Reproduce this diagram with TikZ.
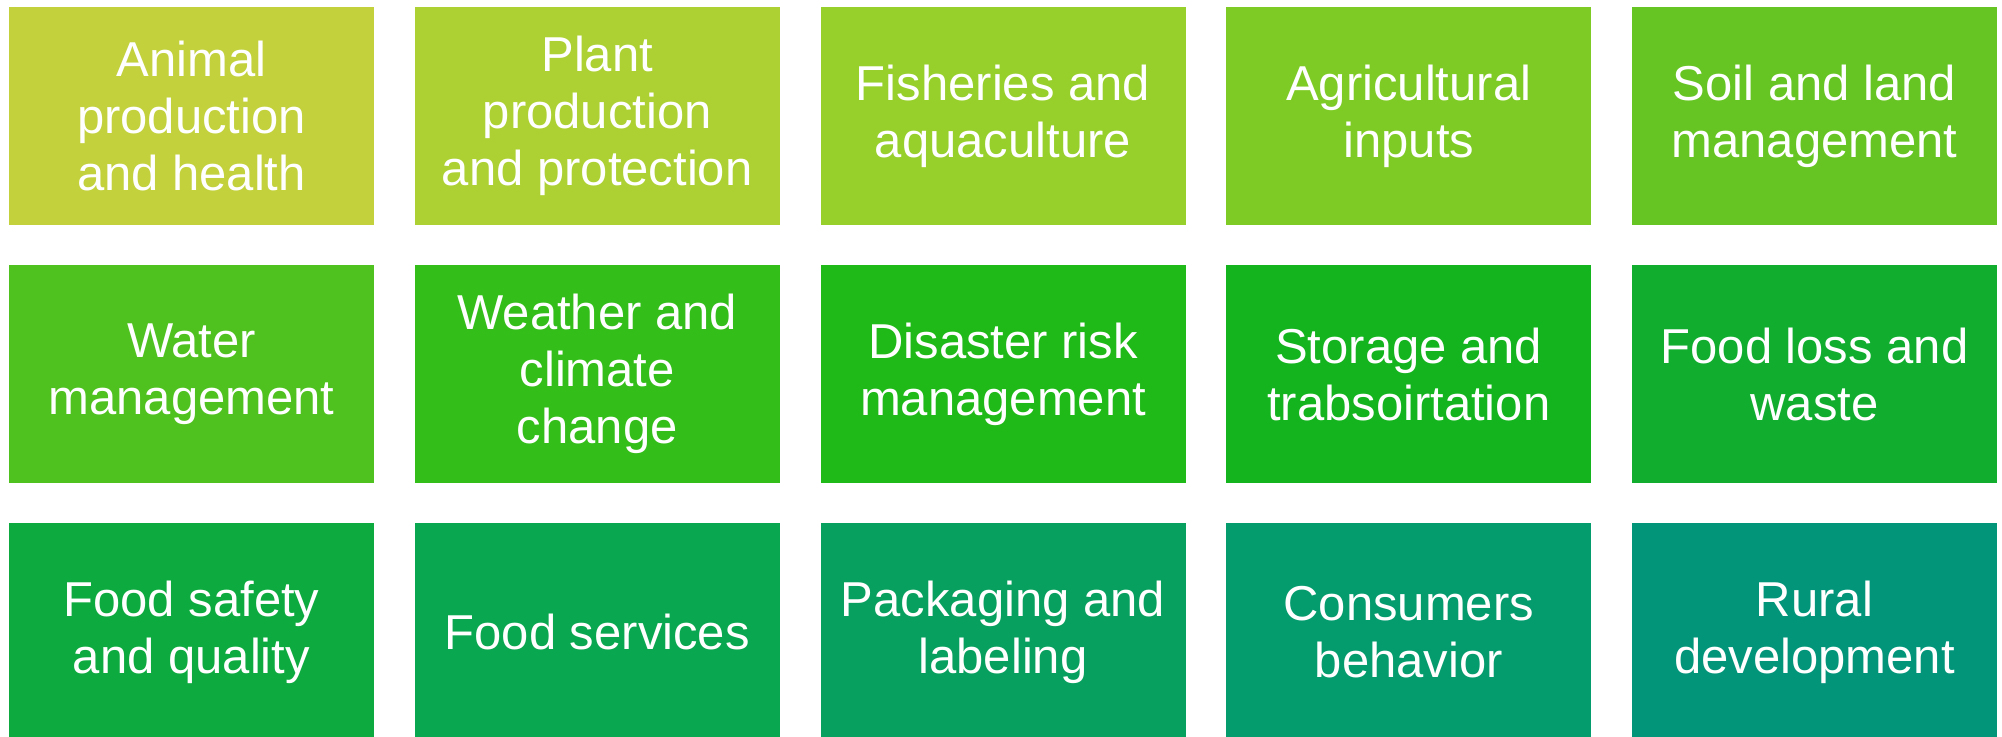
\documentclass[tikz,border=0pt]{standalone}
\usepackage{fontspec}
\setmainfont{Liberation Sans}
\definecolor{c1}{HTML}{C2D13C}
\definecolor{c2}{HTML}{ADD132}
\definecolor{c3}{HTML}{97CF2B}
\definecolor{c4}{HTML}{7FCB26}
\definecolor{c5}{HTML}{66C522}
\definecolor{c6}{HTML}{4FC21F}
\definecolor{c7}{HTML}{34BE1A}
\definecolor{c8}{HTML}{1FB918}
\definecolor{c9}{HTML}{13B41E}
\definecolor{c10}{HTML}{10AD2F}
\definecolor{c11}{HTML}{0DAB3F}
\definecolor{c12}{HTML}{09A74F}
\definecolor{c13}{HTML}{08A05E}
\definecolor{c14}{HTML}{049B6D}
\definecolor{c15}{HTML}{02957A}
\tikzset{
  tile/.style={rectangle, inner sep=0pt, minimum width=182.5pt, minimum height=109pt,
    text=white, align=center, font=\fontsize{24.5}{28.5}\selectfont}
}
\begin{document}
\begin{tikzpicture}[x=0.5pt,y=-0.5pt]
\clip (0,0) rectangle (2002,736);
\fill[white] (0,0) rectangle (2002,736);
% row 1 (center y = 116)
\node[tile, fill=c1] (a1) at (191.5,116) {Animal\\production\\and health};
\node[tile, fill=c2] (a2) at (597.25,116) {Plant\\production\\and protection};
\node[tile, fill=c3] (a3) at (1003,116) {Fisheries and\\aquaculture};
\node[tile, fill=c4] (a4) at (1408.75,116) {Agricultural\\inputs};
\node[tile, fill=c5] (a5) at (1814.5,116) {Soil and land\\management};
% row 2 (center y = 374)
\node[tile, fill=c6] (b1) at (191.5,374) {Water\\management};
\node[tile, fill=c7] (b2) at (597.25,374) {Weather and\\climate\\change};
\node[tile, fill=c8] (b3) at (1003,374) {Disaster risk\\management};
\node[tile, fill=c9] (b4) at (1408.75,374) {Storage and\\trabsoirtation};
\node[tile, fill=c10] (b5) at (1814.5,374) {Food loss and\\waste};
% row 3 (center y = 632)
\node[tile, fill=c11] (c1n) at (191.5,632) {Food safety\\and quality};
\node[tile, fill=c12] (c2n) at (597.25,632) {Food services};
\node[tile, fill=c13] (c3n) at (1003,632) {Packaging and\\labeling};
\node[tile, fill=c14] (c4n) at (1408.75,632) {Consumers\\behavior};
\node[tile, fill=c15] (c5n) at (1814.5,632) {Rural\\development};
\end{tikzpicture}
\end{document}
